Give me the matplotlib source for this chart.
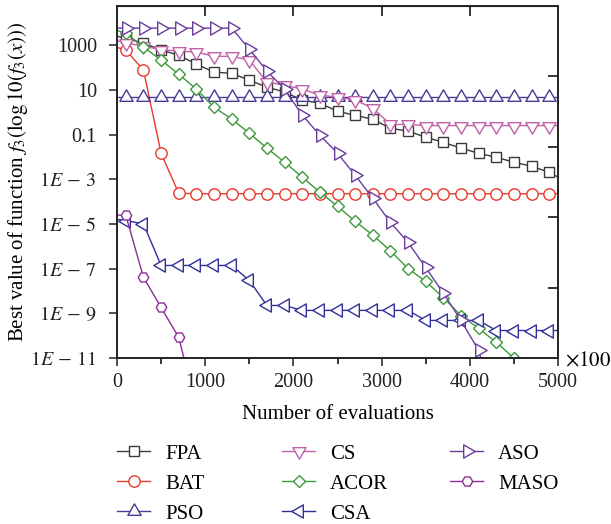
import numpy as np
import matplotlib
matplotlib.use('Agg')
from matplotlib import pyplot as plt
from matplotlib.path import Path

plt.rcParams['font.family'] = ['Liberation Serif', 'DejaVu Serif']
plt.rcParams['mathtext.fontset'] = 'stix'

# evaluations (x100 shown on axis label), markers sit on the odd hundreds
evals = [0, 100, 300, 500, 700, 900, 1100, 1300, 1500, 1700, 1900, 2100, 2300, 2500,
         2700, 2900, 3100, 3300, 3500, 3700, 3900, 4100, 4300, 4500, 4700, 4900, 5000]

# log10 of the best value
fpa = [3.4, 3.3, 3.09, 2.78, 2.55, 2.15, 1.79, 1.74, 1.43, 1.12, 0.9, 0.54, 0.4, 0.04,
       -0.14, -0.32, -0.72, -0.85, -1.12, -1.35, -1.61, -1.84, -2.02, -2.24, -2.42, -2.69, -2.91]
bat = [2.9, 2.78, 1.88, -1.84, -3.63, -3.65, -3.65, -3.65, -3.65, -3.65, -3.65, -3.65, -3.65, -3.65,
       -3.65, -3.65, -3.65, -3.65, -3.65, -3.65, -3.65, -3.65, -3.65, -3.65, -3.65, -3.65, -3.65]
pso = [0.7] * 27
cs = [3.2, 3.1, 2.95, 2.8, 2.73, 2.69, 2.5, 2.5, 2.33, 1.35, 1.21, 1.03, 0.76, 0.67,
      0.54, 0.18, -0.55, -0.55, -0.6, -0.6, -0.6, -0.6, -0.6, -0.6, -0.6, -0.6, -0.6]
acor = [3.65, 3.54, 2.91, 2.33, 1.7, 1.03, 0.22, -0.31, -0.94, -1.61, -2.24, -2.91, -3.58, -4.21,
        -4.88, -5.5, -6.2, -7.0, -7.57, -8.3, -9.1, -9.67, -10.3, -11.0, -11.6, -12.3, -12.6]
csa = [-4.8, -4.85, -5.0, -6.86, -6.86, -6.86, -6.86, -6.86, -7.53, -8.65, -8.65, -8.87, -8.87, -8.87,
       -8.87, -8.87, -8.87, -8.87, -9.32, -9.32, -9.32, -9.32, -9.77, -9.77, -9.77, -9.77, -9.77]
aso = [3.76, 3.76, 3.76, 3.76, 3.76, 3.76, 3.76, 3.76, 2.82, 1.84, 1.03, -0.13, -1.03, -1.84,
       -2.82, -3.85, -4.93, -5.83, -6.95, -8.1, -9.32, -10.66, -13.5, np.nan, np.nan, np.nan, np.nan]
maso = [-4.6, -4.62, -7.39, -8.74, -10.08, -13.2, np.nan, np.nan, np.nan, np.nan, np.nan, np.nan, np.nan, np.nan,
        np.nan, np.nan, np.nan, np.nan, np.nan, np.nan, np.nan, np.nan, np.nan, np.nan, np.nan, np.nan, np.nan]

names = ['FPA', 'BAT', 'PSO', 'CS', 'ACOR', 'CSA', 'ASO', 'MASO']
colors = ['#3a3a3a', '#e8392e', '#463b97', '#c060a8', '#3c9a3c', '#30309a', '#6a3c9c', '#8a2f95']

ytick_exp = [3, 1, -1, -3, -5, -7, -9, -11]
ytick_labels = ['1000', '10', '0.1', r'$1E\,-\,3$', r'$1E\,-\,5$', r'$1E\,-\,7$',
                r'$1E\,-\,9$', r'$1E\,-\,11$']


# triangles centred on their centroid (line runs close to the base)
def tri(angle):
    a = np.deg2rad(angle + np.array([90, 210, 330, 90]))
    return Path(np.column_stack([np.cos(a), np.sin(a)]), closed=True)


markers = ['s', 'o', tri(0), tri(180), 'D', tri(90), tri(-90), 'H']
msizes = [7, 8.2, 11, 11, 6.6, 11, 11, 7.5]
series = [fpa, bat, pso, cs, acor, csa, aso, maso]

fig = plt.figure(figsize=(6.11, 5.24), dpi=100)
ax = fig.add_axes([117 / 611, 1 - 358 / 524, 441 / 611, 352 / 524])

x = np.array(evals)
for vals, name, c, m, ms in zip(series, names, colors, markers, msizes):
    ax.plot(x, 10.0 ** np.array(vals, dtype=float), color=c, lw=1.0, marker=m, ms=ms,
            mfc='white', mec=c, mew=1.0, markevery=slice(1, 26), label=name)

ax.set_yscale('log')
ax.set_xlim(0, 5000)
ax.set_ylim(10.0 ** -11, 10.0 ** 4.75)
ax.set_yticks([10.0 ** e for e in ytick_exp])
ax.set_yticklabels(ytick_labels)
ax.minorticks_off()
ax.set_xticks([0, 1000, 2000, 3000, 4000, 5000])
ax.set_xticks([500, 1500, 2500, 3500, 4500], minor=True)
ax.tick_params(axis='both', which='major', direction='out', length=6, width=1.1,
               labelsize=14.5, colors='#222222')
ax.tick_params(axis='x', which='minor', direction='out', length=4, width=1.1)
ax.tick_params(axis='x', pad=5)
ax.tick_params(axis='y', pad=8.5)
for s in ax.spines.values():
    s.set_linewidth(1.2)
    s.set_color('#222222')

# inward ticks on the top and right edges
top = ax.secondary_xaxis('top')
top.set_xticks([1000, 2000, 3000, 4000])
top.tick_params(direction='in', length=7, width=1.1, labeltop=False)
right = ax.twinx()
right.set_ylim(0, 5)
right.set_yticks([1, 2, 3, 4])
right.tick_params(direction='in', length=7, width=1.1, labelright=False)
for s in right.spines.values():
    s.set_linewidth(1.2)
    s.set_color('#222222')

ax.set_xlabel('Number of evaluations', fontsize=15, labelpad=9)
ax.set_ylabel(r'Best value of function $f_3(\mathrm{log}\,10(f_3(x)))$', fontsize=15)
ax.yaxis.set_label_coords(-0.197, 0.5)
ax.text(1.015, -0.012, r'$\times 100$', transform=ax.transAxes, fontsize=15,
        ha='left', va='center')

# legend: three columns placed at fixed positions under the plot
handles, labels = ax.get_legend_handles_labels()
col_left = [117, 282, 450]
groups = [slice(0, 3), slice(3, 6), slice(6, 8)]
for left, g in zip(col_left, groups):
    leg = fig.legend(handles[g], labels[g], loc='upper left',
                     bbox_to_anchor=(left / 611, 1 - 444 / 524),
                     frameon=False, fontsize=15, handlelength=1.6, handletextpad=0.7,
                     labelspacing=0.5, borderpad=0, borderaxespad=0)

fig.savefig('out.png', dpi=100)
